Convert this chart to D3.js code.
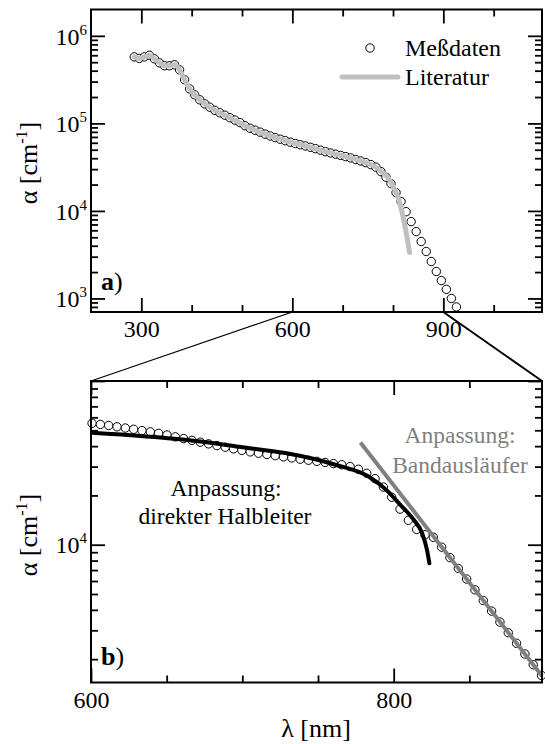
<!DOCTYPE html>
<html>
<head>
<meta charset="utf-8">
<script src="https://cdn.jsdelivr.net/npm/d3@7"></script>
</head>
<body style="margin:0;background:#fff">
<svg id="chart" width="545" height="744" font-family="Liberation Serif"></svg>
<script>
// Messdaten, Übersicht (Teil a)
const topWl = [286, 296, 306, 316, 326, 336, 346, 356, 366, 376, 386, 396, 406, 416, 426, 436, 446, 456, 466, 476,
  486, 496, 506, 516, 526, 536, 546, 556, 566, 576, 586, 596, 606, 616, 626, 636, 646, 656, 666, 676,
  686, 696, 706, 716, 726, 736, 746, 756, 766, 776, 786, 796, 806, 816, 826, 836, 846, 856, 866, 876,
  886, 896, 906, 916, 926]
const topAlpha = [5.75e5, 5.53e5, 5.75e5, 6.0e5, 5.47e5, 4.92e5, 4.55e5, 4.55e5, 4.67e5, 4.09e5,
  3.15e5, 2.48e5, 2.12e5, 1.86e5, 1.67e5, 1.53e5, 1.41e5, 1.32e5, 1.24e5, 1.16e5,
  1.09e5, 1.02e5, 9.4e4, 8.8e4, 8.36e4, 7.94e4, 7.53e4, 7.18e4, 6.87e4, 6.59e4,
  6.34e4, 6.10e4, 5.89e4, 5.70e4, 5.52e4, 5.33e4, 5.14e4, 4.94e4, 4.75e4, 4.59e4,
  4.45e4, 4.31e4, 4.17e4, 4.03e4, 3.87e4, 3.72e4, 3.56e4, 3.38e4, 3.16e4, 2.81e4,
  2.43e4, 2.05e4, 1.62e4, 1.28e4, 9.8e3, 7.55e3, 5.81e3, 4.47e3, 3.44e3, 2.64e3,
  2.03e3, 1.60e3, 1.27e3, 1.00e3, 8.0e2]

// Literaturwerte
const litWl = [286, 296, 306, 316, 326, 336, 346, 356, 366, 376, 386, 396, 416, 446, 476, 506, 546, 586, 626,
  666, 706, 746, 766, 780, 790, 800, 810, 820, 833]
const litAlpha = [5.75e5, 5.53e5, 5.75e5, 6.0e5, 5.47e5, 4.92e5, 4.55e5, 4.55e5, 4.67e5, 4.09e5,
  3.15e5, 2.48e5, 1.86e5, 1.41e5, 1.16e5, 9.4e4, 7.53e4, 6.34e4, 5.52e4,
  4.75e4, 4.17e4, 3.56e4, 3.16e4, 2.72e4, 2.4e4, 1.9e4, 1.42e4, 8.6e3, 3.35e3]

// Messdaten, Ausschnitt (Teil b)
const botWl = [600.7, 606.2, 611.7, 617.2, 622.7, 628.2, 633.7, 639.2, 644.7, 650.2, 655.7, 661.2, 666.7, 672.2,
  677.7, 683.2, 688.7, 694.2, 699.7, 705.2, 710.7, 716.2, 721.7, 727.2, 732.7, 738.2, 743.7, 749.2,
  754.7, 760.2, 765.7, 771.2, 776.7, 782.2, 787.7, 793.2, 798.7, 804.2, 809.7, 815.2, 820.7, 826.2,
  831.7, 837.2, 842.7, 848.2, 853.7, 859.2, 864.7, 870.2, 875.7, 881.2, 886.7, 892.2, 897.7]
const botAlpha = [5.52e4, 5.43e4, 5.35e4, 5.25e4, 5.16e4, 5.07e4, 4.98e4, 4.89e4, 4.79e4, 4.68e4, 4.56e4, 4.45e4,
  4.34e4, 4.23e4, 4.13e4, 4.03e4, 3.94e4, 3.85e4, 3.77e4, 3.69e4, 3.62e4, 3.56e4, 3.50e4, 3.44e4,
  3.39e4, 3.33e4, 3.28e4, 3.23e4, 3.18e4, 3.13e4, 3.08e4, 3.00e4, 2.89e4, 2.73e4, 2.53e4, 2.25e4,
  1.95e4, 1.65e4, 1.41e4, 1.24e4, 1.15e4, 1.11e4, 9.66e3, 8.34e3, 7.16e3, 6.17e3, 5.30e3, 4.56e3,
  3.93e3, 3.37e3, 2.90e3, 2.50e3, 2.15e3, 1.85e3, 1.59e3]

// Anpassung direkter Halbleiter
const fitDirWl = [600.7, 662.3, 700, 728.4, 761.4, 783.4, 795.6, 804.4, 813.2, 818.7, 822, 823.6]
const fitDirAlpha = [4.83e4, 4.37e4, 3.94e4, 3.63e4, 3.08e4, 2.61e4, 2.14e4, 1.75e4, 1.42e4, 1.18e4, 9.3e3, 7.7e3]

// Anpassung Bandausläufer
const fitTailWl = [778, 898]
const fitTailAlpha = [4.21e4, 1.58e3]

// tick values
const topXMajor = [300, 600, 900]
const topXMinor = [400, 500, 700, 800, 1000]
const topYMajor = [1e3, 1e4, 1e5, 1e6]
const botXMajor = [600, 800]
const botXMinor = [650, 700, 750, 850]
const botYMajor = [1e4, 1e5]
const botYLabels = [1e4]

const svg = d3.select('#chart')
const L = 91, R = 542
const FONT = 'Liberation Serif'

const xA = d3.scaleLinear().domain([200, 1096]).range([L, R])
const yA = d3.scaleLog().domain([700, 2e6]).range([312, 9.5])
const xB = d3.scaleLinear().domain([600, 898]).range([L, R])
const yB = d3.scaleLog().domain([1440, 1e5]).range([682.5, 381])

// Achsen mit nach innen zeigenden Ticks, auf allen vier Seiten
function drawAxes(x, y, xMajor, xMinor, yMajor, yLabels) {
  const [x0, x1] = x.range()
  const [yb, yt] = y.range()
  const yMinor = y.ticks().filter(d => !yMajor.includes(d) && d > y.domain()[0] && d < y.domain()[1])
  const sides = [
    [d3.axisBottom, x, `translate(0,${yb})`, xMajor, xMinor, 'x'],
    [d3.axisTop, x, `translate(0,${yt})`, xMajor, xMinor, null],
    [d3.axisLeft, y, `translate(${x0},0)`, yMajor, yMinor, 'y'],
    [d3.axisRight, y, `translate(${x1},0)`, yMajor, yMinor, null]
  ]
  sides.forEach(([axis, sc, tr, maj, min, lab]) => {
    const gMin = svg.append('g').attr('transform', tr)
      .call(axis(sc).tickValues(min).tickSize(-7).tickFormat(''))
    gMin.select('.domain').remove()
    const gMaj = svg.append('g').attr('transform', tr)
      .call(axis(sc).tickValues(maj).tickSize(-14)
        .tickPadding(lab === 'y' ? 4 : 8)
        .tickFormat(lab === 'x' ? d3.format('d') : ''))
    gMaj.select('.domain').remove()
    gMin.attr('font-family', FONT)
    gMaj.attr('font-family', FONT).attr('font-size', 24)
    gMin.selectAll('line').attr('stroke-width', 1.8)
    gMaj.selectAll('line').attr('stroke-width', 1.8)
    if (lab === 'y') {
      gMaj.selectAll('.tick text')
        .filter(d => yLabels.includes(d))
        .attr('dy', '0.34em')
        .text('10')
        .append('tspan')
        .attr('dy', -10)
        .attr('font-size', 15)
        .text(d => Math.round(Math.log10(d)))
    }
  })
  // Rahmen
  svg.append('rect')
    .attr('x', x0).attr('y', yt)
    .attr('width', x1 - x0).attr('height', yb - yt)
    .attr('fill', 'none').attr('stroke', 'black').attr('stroke-width', 2)
}

function yTitle(cy) {
  const t = svg.append('text')
    .attr('transform', `translate(37,${cy}) rotate(-90)`)
    .attr('text-anchor', 'middle')
    .attr('font-size', 26)
    .text('α [cm')
  t.append('tspan').attr('dy', -10).attr('font-size', 16).text('-1')
  t.append('tspan').attr('dy', 10).text(']')
}

function panelLabel(x, y, letter) {
  const t = svg.append('text').attr('x', x).attr('y', y).attr('font-size', 26)
  t.append('tspan').attr('font-weight', 'bold').text(letter)
  t.append('tspan').text(')')
}

function note(x, y, str, color) {
  svg.append('text').attr('x', x).attr('y', y)
    .attr('font-size', 23.5)
    .attr('text-anchor', 'middle')
    .attr('fill', color)
    .text(str)
}

const lineA = d3.line().x(d => xA(d[0])).y(d => yA(d[1])).curve(d3.curveMonotoneX)
const lineB = d3.line().x(d => xB(d[0])).y(d => yB(d[1])).curve(d3.curveMonotoneX)

// ---------- Teil a ----------
svg.append('g').selectAll('circle')
  .data(d3.zip(topWl, topAlpha))
  .join('circle')
  .attr('cx', d => xA(d[0]))
  .attr('cy', d => yA(d[1]))
  .attr('r', 4.2)
  .attr('fill', 'white')
  .attr('stroke', 'black')
  .attr('stroke-width', 1)

svg.append('path')
  .datum(d3.zip(litWl, litAlpha))
  .attr('d', lineA)
  .attr('fill', 'none')
  .attr('stroke', '#c0c0c0')
  .attr('stroke-width', 5)
  .attr('stroke-linecap', 'round')

drawAxes(xA, yA, topXMajor, topXMinor, topYMajor, topYMajor)
yTitle(163)
panelLabel(101, 290, 'a')

// Legende
svg.append('circle').attr('cx', 370).attr('cy', 48).attr('r', 4.2)
  .attr('fill', 'white').attr('stroke', 'black').attr('stroke-width', 1)
svg.append('text').attr('x', 405).attr('y', 56).attr('font-size', 24).text('Meßdaten')
svg.append('line').attr('x1', 342).attr('x2', 398).attr('y1', 77).attr('y2', 77)
  .attr('stroke', '#c0c0c0').attr('stroke-width', 5).attr('stroke-linecap', 'round')
svg.append('text').attr('x', 405).attr('y', 85).attr('font-size', 24).text('Literatur')

// Zoom-Linien
svg.append('line')
  .attr('x1', xA(600)).attr('y1', yA.range()[0])
  .attr('x2', xB(600)).attr('y2', yB.range()[1])
  .attr('stroke', 'black').attr('stroke-width', 1.2)
svg.append('line')
  .attr('x1', xA(900)).attr('y1', yA.range()[0])
  .attr('x2', R).attr('y2', yB.range()[1])
  .attr('stroke', 'black').attr('stroke-width', 2)

// ---------- Teil b ----------
svg.append('g').selectAll('circle')
  .data(d3.zip(botWl, botAlpha))
  .join('circle')
  .attr('cx', d => xB(d[0]))
  .attr('cy', d => yB(d[1]))
  .attr('r', 4.2)
  .attr('fill', 'white')
  .attr('stroke', 'black')
  .attr('stroke-width', 1)

svg.append('path')
  .datum(d3.zip(fitDirWl, fitDirAlpha))
  .attr('d', lineB)
  .attr('fill', 'none')
  .attr('stroke', 'black')
  .attr('stroke-width', 4)
  .attr('stroke-linecap', 'round')

svg.append('path')
  .datum(d3.zip(fitTailWl, fitTailAlpha))
  .attr('d', lineB)
  .attr('fill', 'none')
  .attr('stroke', '#808080')
  .attr('stroke-width', 4)

drawAxes(xB, yB, botXMajor, botXMinor, botYMajor, botYLabels)
yTitle(535)
panelLabel(101, 665, 'b')

note(226, 496, 'Anpassung:', 'black')
note(225, 524, 'direkter Halbleiter', 'black')
note(460, 443, 'Anpassung:', '#808080')
note(460, 473, 'Bandausläufer', '#808080')

svg.append('text').attr('x', 316).attr('y', 737).attr('font-size', 26)
  .attr('text-anchor', 'middle').text('λ [nm]')

svg.selectAll('text, tspan').attr('font-family', FONT).style('font-family', "'Liberation Serif'")
</script>
</body>
</html>
